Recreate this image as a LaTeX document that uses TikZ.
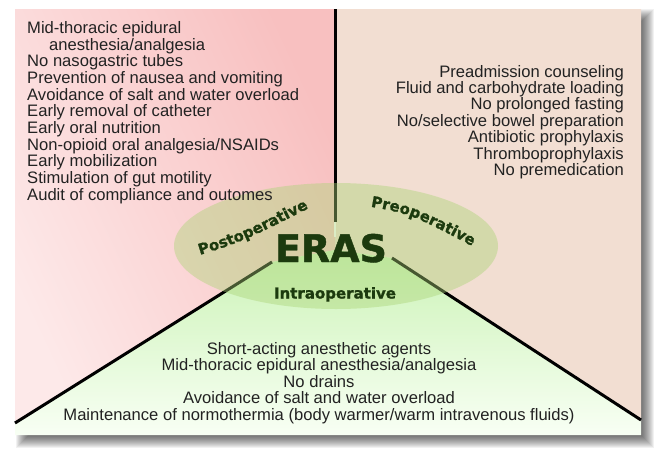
\documentclass[tikz,border=0pt]{standalone}
\usepackage{fontspec}
\setmainfont{Liberation Sans}
\newfontfamily\heavy{DejaVu Sans Bold}[FakeBold=1.2]
\usetikzlibrary{decorations.text}
\definecolor{txt}{HTML}{222222}
\definecolor{dgreen}{HTML}{1C3A0E}
\definecolor{pinkL}{HTML}{FDE9E9}
\definecolor{pinkR}{HTML}{F8C0C0}
\definecolor{beige}{HTML}{F2DED2}
\definecolor{greenT}{HTML}{CBF3B6}
\definecolor{greenB}{HTML}{F8FFF4}
\definecolor{ellg}{HTML}{AAD475}
\tikzset{
  item/.style={inner sep=0pt, text=txt, font=\fontsize{16.6}{16.6}\selectfont},
  phase/.style={inner sep=0pt, text=dgreen, font=\heavy\fontsize{15}{15}\selectfont},
  divider/.style={line width=3pt, black},
}
\begin{document}
\begin{tikzpicture}[x=1pt,y=-1pt]
\useasboundingbox (0,0) rectangle (669,458);
\fill[white] (0,0) rectangle (669,458);
% shadow
\foreach \r in {-6,-5,...,6}
  \fill[black, opacity=0.055] (22-\r,15-\r) rectangle (648+\r,442+\r);
\fill[white] (15,9) rectangle (641,435);
% corner points
\coordinate (tl) at (15,9);
\coordinate (tm) at (335,9);
\coordinate (tr) at (641,9);
\coordinate (ctr) at (335,250);
\coordinate (ll) at (272,262);
\coordinate (rl) at (392,258);
\coordinate (bl) at (15,423);
\coordinate (br) at (641,420);
\coordinate (bbl) at (15,435);
\coordinate (bbr) at (641,435);
\coordinate (vb) at (335,222);
\coordinate (vw) at (335,237);
% regions
\shade[top color=pinkR, bottom color=pinkL, shading angle=-65] (tl) -- (tm) -- (ctr) -- (ll) -- (bl) -- cycle;
\fill[beige] (tm) -- (tr) -- (br) -- (rl) -- (ctr) -- cycle;
\shade[top color=greenT, bottom color=greenB] (bl) -- (ll) -- (ctr) -- (rl) -- (br) -- (bbr) -- (bbl) -- cycle;
% dividers
\draw[divider] (tm) -- (vb);
\draw[white, line width=1.5pt] (vb) -- (vw);
\draw[divider] (ll) -- (bl);
\draw[divider] (rl) -- (br);
% ellipse
\fill[ellg, opacity=0.42] (336,246) ellipse [x radius=162pt, y radius=63pt];
% centre labels
\node[phase, font=\heavy\fontsize{38}{38}\selectfont, anchor=base] (eras) at (331,262) {ERAS};
\node[phase, anchor=base] (intra) at (335,298.5) {Intraoperative};
\path[decorate, decoration={text along path, text align=center,
  text={|\heavy\fontsize{15}{15}\selectfont\color{dgreen}|Postoperative}}]
  (190,258) .. controls (242,242) .. (318,203.5);
\path[decorate, decoration={text along path, text align=center,
  text={|\heavy\fontsize{15}{15}\selectfont\color{dgreen}|Preoperative}}]
  (363,205.3) .. controls (411,213.8) .. (479,249.7);
% postoperative list
\foreach \t [count=\i] in {{Mid-thoracic epidural},{\hspace{22pt}anesthesia/analgesia},{No nasogastric tubes},{Prevention of nausea and vomiting},{Avoidance of salt and water overload},{Early removal of catheter},{Early oral nutrition},{Non-opioid oral analgesia/NSAIDs},{Early mobilization},{Stimulation of gut motility},{Audit of compliance and outomes}}
  \node[item, anchor=base west] (post\i) at (27,{33.5+16.65*(\i-1)}) {\t};
% preoperative list
\foreach \t [count=\i] in {{Preadmission counseling},{Fluid and carbohydrate loading},{No prolonged fasting},{No/selective bowel preparation},{Antibiotic prophylaxis},{Thromboprophylaxis},{No premedication}}
  \node[item, anchor=base east] (pre\i) at (624,{77+16.4*(\i-1)}) {\t};
% intraoperative list
\foreach \t [count=\i] in {{Short-acting anesthetic agents},{Mid-thoracic epidural anesthesia/analgesia},{No drains},{Avoidance of salt and water overload},{Maintenance of normothermia (body warmer/warm intravenous fluids)}}
  \node[item, anchor=base] (intra\i) at (319,{354+16.5*(\i-1)}) {\t};
\end{tikzpicture}
\end{document}
